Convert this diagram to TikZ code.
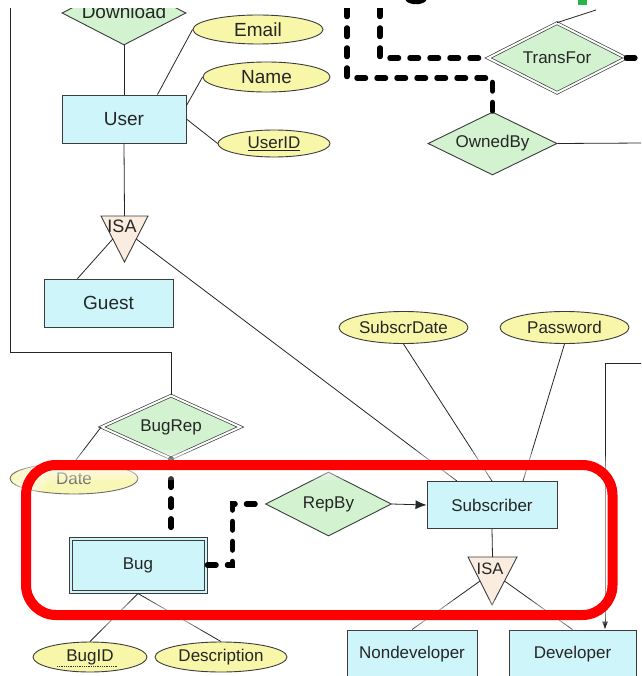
\documentclass[tikz,border=0pt]{standalone}
\usepackage{fontspec}
\setmainfont{Liberation Sans}
\usetikzlibrary{shapes.geometric,arrows.meta,calc}

\definecolor{entfill}{RGB}{206,245,250}
\definecolor{relfill}{RGB}{210,242,208}
\definecolor{attfill}{RGB}{248,246,168}
\definecolor{isafill}{RGB}{250,236,222}
\definecolor{edge}{RGB}{60,60,60}
\definecolor{hilite}{RGB}{255,0,0}
\definecolor{titlegreen}{RGB}{40,180,70}

\newcommand\erbig{\fontsize{19}{22}\selectfont}
\newcommand\ersmall{\fontsize{17}{20}\selectfont}

\tikzset{
  entity/.style={rectangle, draw=edge, fill=entfill, line width=0.9pt, inner sep=0pt, text=black!85},
  relation/.style={diamond, aspect=2, draw=edge, fill=relfill, line width=0.9pt, inner sep=0pt, text=black!85},
  idrelation/.style={relation, double=white, double distance=2pt, line width=0.7pt},
  attr/.style={ellipse, draw=edge, fill=attfill, line width=0.9pt, inner sep=0pt, text=black!85},
  isabox/.style={draw=edge, fill=isafill, line width=0.9pt},
  isatext/.style={inner sep=0pt, text=black!85},
  link/.style={draw=black!85, line width=0.8pt},
  idlink/.style={draw=black, line width=5.5pt, dash pattern=on 8.5pt off 11.5pt, line cap=round},
  highlight/.style={draw=hilite, line width=10pt, rounded corners=30pt},
  halo/.style={draw=white, opacity=0.22, rounded corners=30pt},
}

\begin{document}
\begin{tikzpicture}[x=1pt,y=-1pt, font=\ersmall]
\useasboundingbox (0,0) rectangle (641,676);
\clip (0,0) rectangle (641,676);
\fill[white] (0,0) rectangle (641,676);

% ---------- entities ----------
\node[entity, minimum width=124pt, minimum height=48pt, font=\erbig] (user) at (124,119) {User};
\node[entity, minimum width=129pt, minimum height=48pt, font=\erbig] (guest) at (108.5,303) {Guest};
\node[entity, minimum width=138pt, minimum height=56pt, line width=1pt] (bug) at (138,565) {Bug};
\draw[edge, line width=1pt] ([shift={(3.5pt,-3.5pt)}]bug.north west) rectangle ([shift={(-3.5pt,3.5pt)}]bug.south east);
\node[entity, minimum width=130pt, minimum height=47pt] (subscriber) at (492,505) {Subscriber};
\node[entity, minimum width=130pt, minimum height=48pt] (nondev) at (412,654) {Nondeveloper};
\node[entity, minimum width=127pt, minimum height=48pt] (developer) at (572.5,654) {Developer};

% ---------- relationships ----------
\node[relation, minimum width=124pt, minimum height=64pt] (download) at (124,13) {};
\node[font=\erbig, inner sep=0pt, text=black!85, anchor=base] (downloadtext) at (124,18.5) {Download};
\node[idrelation, minimum width=139pt, minimum height=63pt] (bugrep) at (171,427) {BugRep};
\node[relation, minimum width=126pt, minimum height=64pt] (repby) at (328.5,504) {RepBy};
\node[idrelation, minimum width=138pt, minimum height=70pt] (transfor) at (557,58) {TransFor};
\node[relation, minimum width=129pt, minimum height=63pt] (ownedby) at (492.5,143.5) {OwnedBy};

% ---------- attributes ----------
\node[attr, minimum width=130pt, minimum height=29pt, font=\erbig] (email) at (258,29.5) {Email};
\node[attr, minimum width=127pt, minimum height=30pt, font=\erbig] (name) at (266.5,77) {Name};
\node[attr, minimum width=112pt, minimum height=27pt] (userid) at (274,143.5) {\underline{UserID}};
\node[attr, minimum width=128pt, minimum height=31pt, fill=attfill!85, draw=edge!75, text=black!55] (date) at (74,478.5) {Date};
\node[attr, minimum width=129pt, minimum height=32pt] (subscrdate) at (403.5,327.5) {SubscrDate};
\node[attr, minimum width=129pt, minimum height=32pt] (password) at (564.5,327.5) {Password};
\node[attr, minimum width=114pt, minimum height=30pt] (bugid) at (90,657) {BugID};
\node[attr, minimum width=132pt, minimum height=30pt] (description) at (221,657) {Description};
\draw[black!80, line width=0.8pt, densely dotted] ([xshift=-33pt,yshift=-9pt]bugid.center) -- ([xshift=28pt,yshift=-9pt]bugid.center);

% ---------- ISA triangles ----------
\coordinate (isaA-tl) at (101,216);
\coordinate (isaA-tr) at (148,216);
\coordinate (isaA-apex) at (124.5,262);
\coordinate (isaA-top) at ($(isaA-tl)!0.5!(isaA-tr)$);
\coordinate (isaA-l) at ($(isaA-tl)!0.5!(isaA-apex)$);
\coordinate (isaA-r) at ($(isaA-tr)!0.5!(isaA-apex)$);
\draw[isabox] (isaA-tl) -- (isaA-tr) -- (isaA-apex) -- cycle;
\node[isatext, font=\fontsize{18}{20}\selectfont] (isaA) at (122,226) {ISA};

\coordinate (isaB-tl) at (468,557);
\coordinate (isaB-tr) at (517,557);
\coordinate (isaB-apex) at (492,605);
\coordinate (isaB-top) at ($(isaB-tl)!0.5!(isaB-tr)$);
\coordinate (isaB-l) at ($(isaB-tl)!0.5!(isaB-apex)$);
\coordinate (isaB-r) at ($(isaB-tr)!0.5!(isaB-apex)$);
\draw[isabox] (isaB-tl) -- (isaB-tr) -- (isaB-apex) -- cycle;
\node[isatext, font=\fontsize{16.5}{18}\selectfont] (isaB) at (490,569) {ISA};

% ---------- free ends of connectors ----------
\coordinate (leftTop) at (10,-2);
\coordinate (leftBend) at (10,352);
\coordinate (rightIn) at (645,363);
\coordinate (devHook) at (605,363);
\coordinate (tfOut) at (596,10);
\coordinate (tfRight) at (645,58);
\coordinate (obRight) at (645,143);
\coordinate (ownTop) at (347,8);
\coordinate (ownBend) at (347,78);
\coordinate (tfTop) at (380,8);

% ---------- plain connectors ----------
\draw[link] (download.south) -- (user.north);
\draw[link] ([xshift=-29pt]user.north east) -- (email.west);
\draw[link] ([yshift=-11pt]user.north east) -- (name.west);
\draw[link] (user.east) -- (userid.west);
\draw[link] (user.south) -- (isaA-top);
\draw[link] (isaA-l) -- ([xshift=-31pt]guest.north);
\draw[link] (isaA-r) -- ([xshift=-35pt]subscriber.north);
\draw[link] (leftTop) -- (leftBend) -| (bugrep.north);
\draw[link] (bugrep.west) -- (date.north);
\draw[link] (bug.south) -- (bugid.north);
\draw[link] (bug.south) -- (description.north);
\draw[link] (subscrdate.south) -- (subscriber.north);
\draw[link] (password.south) -- ([xshift=31pt]subscriber.north);
\draw[link] (subscriber.south) -- (isaB-top);
\draw[link] (isaB-l) -- (nondev.north);
\draw[link] (isaB-r) -- (developer.north);
\draw[link, -{Latex[length=8pt,width=6pt]}] (rightIn) -- (devHook) -- (devHook |- developer.north);
\draw[link, -{Latex[length=11pt,width=9pt]}] (repby.east) -- (subscriber.west);
\draw[link] (transfor.north) -- (tfOut);
\draw[link] (ownedby.east) -- (obRight);

% ---------- identifying (thick dashed) connectors ----------
\draw[idlink] (bugrep.south) -- (bugrep.south |- bug.north);
\draw[idlink] (bug.east) -- ++(25,0) |- (repby.west);
\draw[idlink] (ownTop) -- (ownBend) -| (ownedby.north);
\draw[idlink] (tfTop) |- (transfor.west);
\draw[idlink] (transfor.east) -- (tfRight);

% ---------- heading band along the top edge ----------
\fill[white] (-1,-1) rectangle (642,8);
\fill[black] (405,-1) .. controls (407,6) and (425,6) .. (427,-1) -- cycle;
\fill[titlegreen] (578,-1) rectangle (587,5);

% ---------- highlight frame ----------
\draw[halo, line width=30pt] (26,465) rectangle (612.5,615);
\draw[halo, line width=22pt] (26,465) rectangle (612.5,615);
\draw[halo, line width=15pt] (26,465) rectangle (612.5,615);
\draw[highlight] (26,465) rectangle (612.5,615);
\end{tikzpicture}
\end{document}
